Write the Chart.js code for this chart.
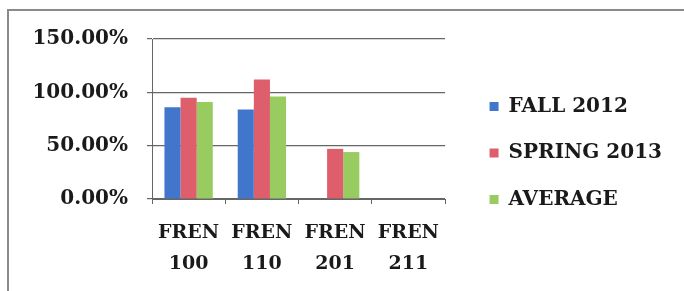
<!DOCTYPE html>
<html>
<head>
<meta charset="utf-8">
<script src="https://cdn.jsdelivr.net/npm/chart.js@4.4.1/dist/chart.umd.min.js"></script>
<style>
  html, body { margin: 0; padding: 0; background: #ffffff; }
  #wrap { width: 684px; height: 291px; position: relative; }
</style>
</head>
<body>
<div id="wrap"><canvas id="chart"></canvas></div>
<script>
const courses = [['FREN', '100'], ['FREN', '110'], ['FREN', '201'], ['FREN', '211']];
const fall2012 = [86, 84, 0, 0];
const spring2013 = [95, 112, 47, 0];
const average = [91, 96, 44, 0];
const yTicks = [0, 50, 100, 150];

const serif = "'DejaVu Serif', serif";
const ink = '#1a1a1a';
const gridColor = '#666666';

// scanned frame: only top and left edges are visible
const framePlugin = {
  id: 'frame',
  beforeDraw(chart) {
    const ctx = chart.ctx;
    ctx.save();
    ctx.fillStyle = '#ffffff';
    ctx.fillRect(0, 0, chart.width, chart.height);
    ctx.strokeStyle = '#8a8a8a';
    ctx.lineWidth = 2;
    ctx.beginPath();
    ctx.moveTo(chart.width, 10);
    ctx.lineTo(8, 10);
    ctx.lineTo(8, chart.height);
    ctx.stroke();
    ctx.restore();
  }
};

new Chart(document.getElementById('chart'), {
  type: 'bar',
  data: {
    labels: courses,
    datasets: [
      { label: 'FALL 2012', data: fall2012, backgroundColor: '#4276cc' },
      { label: 'SPRING 2013', data: spring2013, backgroundColor: '#de5e6c' },
      { label: 'AVERAGE', data: average, backgroundColor: '#98cc60' }
    ]
  },
  options: {
    responsive: true,
    maintainAspectRatio: false,
    animation: false,
    layout: { padding: { left: 0, right: 12, top: 15, bottom: 0 } },
    datasets: { bar: { categoryPercentage: 0.66, barPercentage: 1 } },
    plugins: {
      legend: {
        position: 'right',
        maxWidth: 300,
        labels: {
          color: ink,
          boxWidth: 9,
          boxHeight: 9,
          padding: 26.5,
          font: { family: serif, size: 20, weight: 'bold' }
        }
      },
      tooltip: { enabled: false }
    },
    scales: {
      x: {
        grid: { display: true, drawOnChartArea: false, tickLength: 5, color: gridColor },
        border: { display: true, color: gridColor },
        ticks: {
          color: ink,
          padding: 14,
          maxRotation: 0,
          font: { family: serif, size: 19, weight: 'bold', lineHeight: 1.6 }
        },
        afterFit(scale) { scale.height = 92; }
      },
      xTop: {
        type: 'category',
        position: 'top',
        display: true,
        grid: { display: false, drawTicks: false },
        border: { display: false },
        ticks: { display: false },
        afterFit(scale) { scale.height = 24; }
      },
      y: {
        min: 0,
        max: 150,
        afterBuildTicks(scale) { scale.ticks = yTicks.map((v) => ({ value: v })); },
        grid: { color: gridColor, tickLength: 5, lineWidth: 1.2 },
        border: { display: true, color: gridColor },
        ticks: {
          color: ink,
          padding: 19,
          font: { family: serif, size: 20, weight: 'bold' },
          callback: (value) => value.toFixed(2) + '%'
        },
        afterFit(scale) { scale.width = 152; }
      },
      yRight: {
        type: 'linear',
        position: 'right',
        display: true,
        grid: { display: false, drawTicks: false },
        border: { display: false },
        ticks: { display: false },
        afterFit(scale) { scale.width = 18; }
      }
    }
  },
  plugins: [framePlugin]
});
</script>
</body>
</html>
